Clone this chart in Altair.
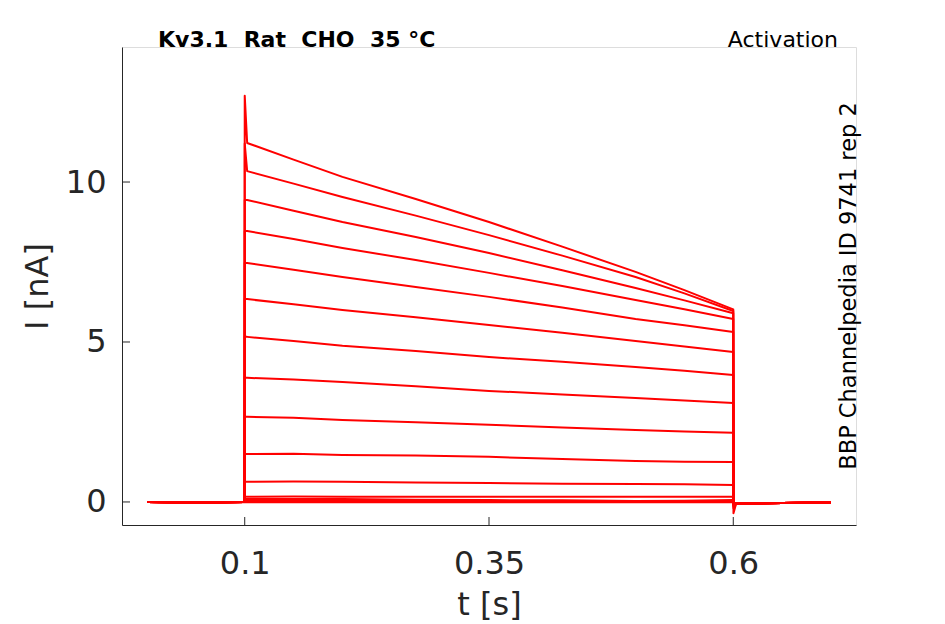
import altair as alt
import pandas as pd

# time points (s) of the read-off samples
t_pre = [0.0, 0.05, 0.0999]
t_on = 0.1
t_plateau = [0.1025, 0.15, 0.2, 0.275, 0.35, 0.425, 0.5, 0.55, 0.6]
t_post = [0.6002, 0.603, 0.65, 0.7]

# current (nA) of each sweep
peak = [12.7, 11.2, 9.44, 8.47, 7.47, 6.34, 5.16, 3.88, 2.66, 1.5, 0.63, 0.16, 0.09, 0.04, 0.01, -0.01]
i_0102 = [11.22, 10.34, 9.44, 8.47, 7.47, 6.34, 5.16, 3.88, 2.66, 1.50, 0.63, 0.16, 0.09, 0.04, 0.01, -0.01]
i_0150 = [10.70, 9.95, 9.10, 8.22, 7.26, 6.18, 5.03, 3.83, 2.63, 1.51, 0.64, 0.17, 0.09, 0.04, 0.01, -0.01]
i_0200 = [10.16, 9.53, 8.75, 7.94, 7.03, 6.00, 4.88, 3.75, 2.56, 1.47, 0.63, 0.16, 0.09, 0.04, 0.01, -0.01]
i_0275 = [9.47, 8.95, 8.28, 7.56, 6.72, 5.77, 4.72, 3.62, 2.49, 1.45, 0.61, 0.16, 0.07, 0.03, 0.01, -0.01]
i_0350 = [8.75, 8.34, 7.78, 7.16, 6.41, 5.53, 4.53, 3.47, 2.41, 1.41, 0.59, 0.16, 0.06, 0.03, 0.01, -0.01]
i_0425 = [7.98, 7.70, 7.24, 6.75, 6.08, 5.29, 4.38, 3.36, 2.33, 1.34, 0.57, 0.16, 0.05, 0.02, 0.0, -0.01]
i_0500 = [7.19, 7.03, 6.69, 6.31, 5.72, 5.03, 4.22, 3.25, 2.25, 1.28, 0.56, 0.16, 0.03, 0.02, 0.0, -0.01]
i_0550 = [6.62, 6.52, 6.30, 6.02, 5.52, 4.86, 4.10, 3.17, 2.20, 1.26, 0.55, 0.16, 0.04, 0.02, 0.0, -0.01]
i_0600 = [6.02, 5.97, 5.90, 5.72, 5.31, 4.69, 3.97, 3.09, 2.16, 1.25, 0.53, 0.16, 0.06, 0.02, 0.0, -0.01]
i_pre = [0.0, -0.02, 0.0]
undershoot = [-0.35, -0.2, -0.15, -0.12, -0.1, -0.08, -0.06, -0.05, -0.04, -0.03, -0.02, -0.02, -0.02, -0.02, -0.02, -0.02]
i_tail = [-0.05, -0.03, -0.02]

x_ticks = [0.1, 0.35, 0.6]
y_ticks = [0, 5, 10]

rows = []
for k in range(len(peak)):
    seq_t = t_pre + [t_on] + t_plateau + t_post
    seq_i = (i_pre + [peak[k]] +
             [i_0102[k], i_0150[k], i_0200[k], i_0275[k], i_0350[k],
              i_0425[k], i_0500[k], i_0550[k], i_0600[k]] +
             [undershoot[k]] + i_tail)
    for j, (tt, ii) in enumerate(zip(seq_t, seq_i)):
        rows.append({"sweep": k, "order": j, "t": tt, "I": ii})
df = pd.DataFrame(rows)

W, H = 734, 478
AX = "#262626"
FONT = "DejaVu Sans"

xs = alt.Scale(domain=[-0.0256, 0.7256], nice=False, zero=False)
ys = alt.Scale(domain=[-0.72, 14.22], nice=False, zero=False)

lines = alt.Chart(df).mark_line(color="#ff0000", strokeWidth=2, strokeJoin="round").encode(
    x=alt.X("t:Q", scale=xs, title="t [s]",
            axis=alt.Axis(values=x_ticks, format="~g", ticks=False, grid=False,
                          domainColor=AX, labelColor=AX, titleColor=AX,
                          labelFontSize=32, titleFontSize=32, labelFont=FONT, titleFont=FONT,
                          titleFontWeight="normal", labelPadding=23, titlePadding=10)),
    y=alt.Y("I:Q", scale=ys, title="I [nA]",
            axis=alt.Axis(values=y_ticks, ticks=False, grid=False,
                          domainColor=AX, labelColor=AX, titleColor=AX,
                          labelFontSize=32, titleFontSize=32, labelFont=FONT, titleFont=FONT,
                          titleFontWeight="normal", labelPadding=16, titlePadding=11)),
    detail="sweep:N",
    order="order:Q",
)

xt = alt.Chart(pd.DataFrame({"t": x_ticks})).mark_rule(color=AX, strokeWidth=1).encode(
    x=alt.X("t:Q", scale=xs), y=alt.value(H), y2=alt.value(H - 8))
yt = alt.Chart(pd.DataFrame({"I": y_ticks})).mark_rule(color=AX, strokeWidth=1).encode(
    y=alt.Y("I:Q", scale=ys), x=alt.value(0), x2=alt.value(8))

title_l = alt.Chart(pd.DataFrame({"s": ["Kv3.1\u00a0\u00a0Rat\u00a0\u00a0CHO\u00a0\u00a035 °C"]})).mark_text(
    font=FONT, fontSize=22, fontWeight="bold", align="left", baseline="alphabetic", color="#000000"
).encode(text="s:N", x=alt.value(36), y=alt.value(0))
title_r = alt.Chart(pd.DataFrame({"s": ["Activation"]})).mark_text(
    font=FONT, fontSize=22, align="right", baseline="alphabetic", color="#000000"
).encode(text="s:N", x=alt.value(716), y=alt.value(0))
side = alt.Chart(pd.DataFrame({"s": ["BBP Channelpedia ID 9741 rep 2"]})).mark_text(
    font=FONT, fontSize=22.5, align="center", baseline="middle", angle=270, color="#000000"
).encode(text="s:N", x=alt.value(727), y=alt.value(239))

chart = alt.layer(lines, xt, yt, title_l, title_r, side).properties(
    width=W, height=H,
    autosize=alt.AutoSizeParams(type="none"),
    padding={"left": 114, "top": 39, "right": 80, "bottom": 99},
).configure_view(stroke=None).configure(background="#ffffff")

chart.save("out.html", embed_options={"renderer": "svg", "actions": False})
